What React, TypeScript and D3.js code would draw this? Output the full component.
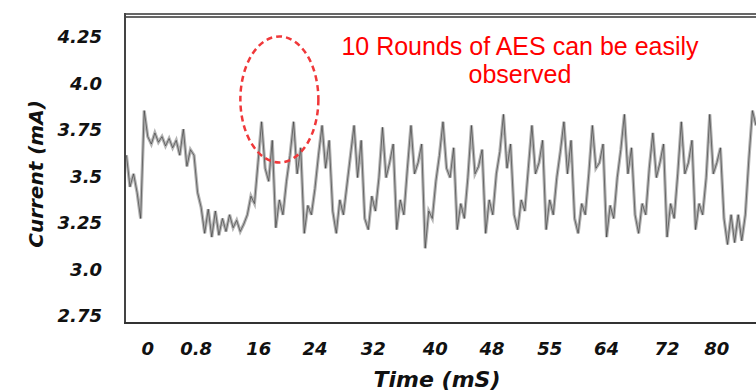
import * as d3 from "d3";
import React from "react";

// sample clock of the trace (ms)
const T0 = -3.0;
const STEP = 0.5;

// current readings (mA), one per sample
const current = [
  3.62, 3.45, 3.52, 3.42, 3.28, 3.86, 3.72, 3.68, 3.74, 3.69,
  3.72, 3.67, 3.71, 3.66, 3.7, 3.62, 3.76, 3.56, 3.65, 3.62,
  3.42, 3.34, 3.2, 3.33, 3.18, 3.32, 3.19, 3.28, 3.21, 3.3,
  3.23, 3.27, 3.21, 3.25, 3.3, 3.4, 3.36, 3.58, 3.8, 3.55,
  3.48, 3.7, 3.23, 3.38, 3.3, 3.48, 3.62, 3.8, 3.52, 3.66,
  3.2, 3.35, 3.3, 3.44, 3.62, 3.78, 3.55, 3.7, 3.32, 3.2,
  3.38, 3.3, 3.46, 3.62, 3.78, 3.5, 3.7, 3.28, 3.22, 3.4,
  3.32, 3.5, 3.77, 3.5, 3.58, 3.68, 3.22, 3.38, 3.3, 3.55,
  3.78, 3.52, 3.58, 3.68, 3.12, 3.32, 3.28, 3.48, 3.62, 3.8,
  3.55, 3.5, 3.66, 3.22, 3.36, 3.28, 3.5, 3.78, 3.52, 3.56,
  3.65, 3.2, 3.38, 3.3, 3.52, 3.64, 3.84, 3.55, 3.68, 3.3,
  3.22, 3.38, 3.32, 3.55, 3.78, 3.52, 3.58, 3.7, 3.22, 3.38,
  3.3, 3.5, 3.64, 3.8, 3.52, 3.7, 3.28, 3.2, 3.36, 3.3,
  3.52, 3.78, 3.55, 3.58, 3.68, 3.18, 3.35, 3.28, 3.5, 3.65,
  3.84, 3.52, 3.66, 3.3, 3.2, 3.36, 3.3, 3.55, 3.74, 3.5,
  3.58, 3.68, 3.18, 3.36, 3.28, 3.52, 3.8, 3.52, 3.58, 3.7,
  3.22, 3.36, 3.3, 3.5, 3.84, 3.52, 3.58, 3.66, 3.28, 3.14,
  3.3, 3.15, 3.3, 3.16, 3.3, 3.6, 3.86, 3.78,
];

const yTicks = [2.75, 3.0, 3.25, 3.5, 3.75, 4.0, 4.25];
const yTickLabels = ["2.75", "3.0", "3.25", "3.5", "3.75", "4.0", "4.25"];
const xTickAt = [0, 6.8, 15.6, 23.5, 31.7, 40.4, 48.4, 56.5, 64.5, 73, 80];
const xTickLabels = ["0", "0.8", "16", "24", "32", "40", "48", "55", "64", "72", "80"];

const note = ["10 Rounds of AES can be easily", "observed"];

export default function App() {
  const width = 756;
  const height = 391;
  const left = 125;
  const top = 15;
  const bottom = 323;

  const x = d3.scaleLinear().domain([-3.2, 85.5]).range([left, width]);
  const y = d3.scaleLinear().domain([2.718, 4.374]).range([bottom, top]);

  const pts: [number, number][] = current.map((v, i) => [T0 + i * STEP, v]);
  const line = d3
    .line<[number, number]>()
    .x((d) => x(d[0]))
    .y((d) => y(d[1]));

  const font = {
    fontFamily: "'DejaVu Sans', sans-serif",
    fontWeight: 700,
    fontStyle: "italic",
  } as const;

  return (
    <svg
      width={width}
      height={height}
      style={{ position: "absolute", left: 0, top: 0, background: "#fff" }}
    >
      <defs>
        <clipPath id="plot">
          <rect x={left} y={top} width={width - left} height={bottom - top} />
        </clipPath>
      </defs>

      <g clipPath="url(#plot)">
        <path d={line(pts) ?? ""} fill="none" stroke="#b4b4b4" strokeWidth={3.2} />
        <path
          d={line(pts) ?? ""}
          fill="none"
          stroke="#333"
          strokeWidth={1}
          strokeOpacity={0.6}
        />
      </g>

      {/* frame */}
      <line x1={left} x2={width} y1={top - 1} y2={top - 1} stroke="#333" strokeWidth={1.5} />
      <line x1={left} x2={width} y1={top + 2} y2={top + 2} stroke="#333" strokeWidth={1.5} />
      <line x1={left} x2={left} y1={top - 2} y2={bottom} stroke="#444" strokeWidth={2} />
      <line x1={left - 1} x2={width} y1={bottom} y2={bottom} stroke="#333" strokeWidth={2} />

      {yTicks.map((t, i) => (
        <text
          key={t}
          x={102}
          y={y(t)}
          textAnchor="end"
          dominantBaseline="middle"
          fontSize={18}
          fill="#111"
          {...font}
        >
          {yTickLabels[i]}
        </text>
      ))}

      {xTickAt.map((t, i) => (
        <text
          key={t}
          x={x(t)}
          y={355}
          textAnchor="middle"
          fontSize={18}
          fill="#111"
          {...font}
        >
          {xTickLabels[i]}
        </text>
      ))}

      <text x={437} y={387} textAnchor="middle" fontSize={22} fill="#111" {...font}>
        Time (mS)
      </text>
      <text
        transform="translate(43,174) rotate(-90)"
        textAnchor="middle"
        fontSize={20}
        fill="#111"
        {...font}
      >
        Current (mA)
      </text>

      <ellipse
        cx={x(18.5)}
        cy={y(3.92)}
        rx={39}
        ry={63}
        fill="none"
        stroke="#f0383a"
        strokeWidth={2.5}
        strokeDasharray="6 4"
      />

      {note.map((s, i) => (
        <text
          key={s}
          x={520}
          y={55 + i * 28}
          textAnchor="middle"
          fontSize={25}
          fill="#ff0000"
          fontFamily="'Liberation Sans', Arial, sans-serif"
        >
          {s}
        </text>
      ))}
    </svg>
  );
}
